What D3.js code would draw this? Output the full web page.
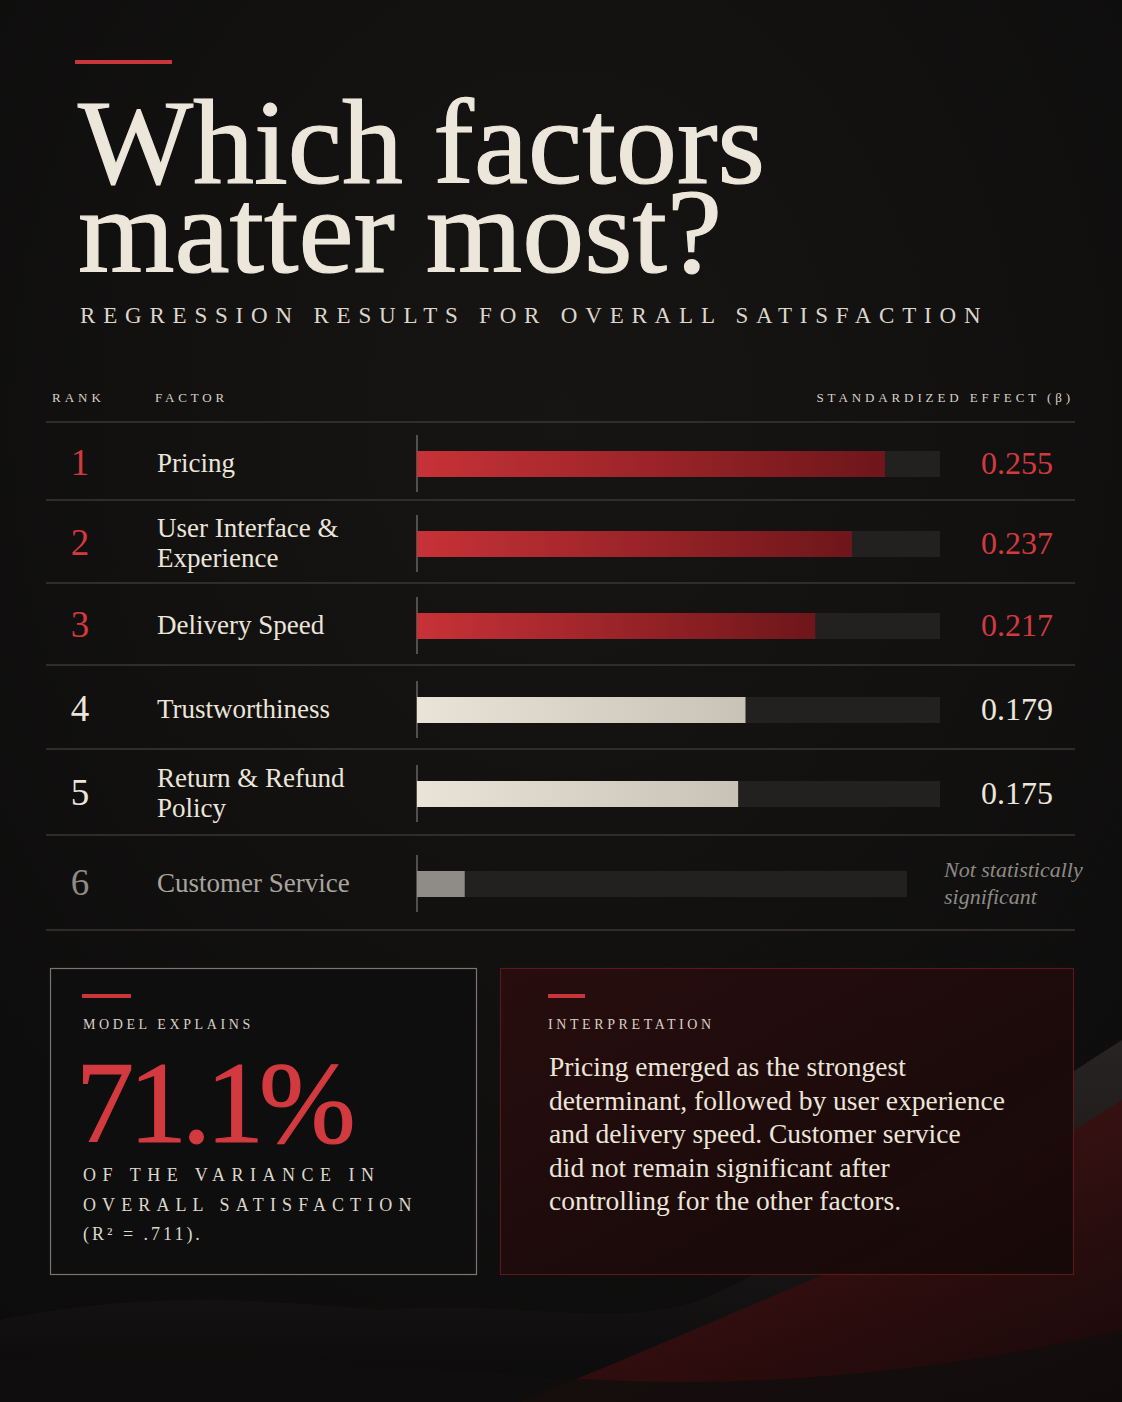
<!DOCTYPE html>
<html><head><meta charset="utf-8">
<script src="https://cdn.jsdelivr.net/npm/d3@7"></script>
<style>body{margin:0;background:#0f0e0e}svg{display:block}</style>
</head><body>
<script>
const ranks = [1,2,3,4,5,6];
const factors = [["Pricing"],["User Interface &","Experience"],["Delivery Speed"],["Trustworthiness"],["Return & Refund","Policy"],["Customer Service"]];
const betas = [0.255,0.237,0.217,0.179,0.175,0.026];
const betaLabels = ["0.255","0.237","0.217","0.179","0.175",null];
const significant = [true,true,true,true,true,false];

const W=1122,H=1402,serif="'Liberation Serif','DejaVu Serif',serif";
const svg=d3.select("body").append("svg").attr("width",W).attr("height",H);
const defs=svg.append("defs");
const bg=defs.append("radialGradient").attr("id","bg").attr("cx","0.5").attr("cy","0.3").attr("r","0.9");
bg.append("stop").attr("offset","0").attr("stop-color","#161514");
bg.append("stop").attr("offset","1").attr("stop-color","#0c0b0b");
svg.append("rect").attr("width",W).attr("height",H).attr("fill","url(#bg)");
const rg=defs.append("linearGradient").attr("id","redbar");
rg.append("stop").attr("offset","0").attr("stop-color","#c73237");
rg.append("stop").attr("offset","1").attr("stop-color","#6e161a");
const wg=defs.append("linearGradient").attr("id","whitebar");
wg.append("stop").attr("offset","0").attr("stop-color","#e9e3d8");
wg.append("stop").attr("offset","1").attr("stop-color","#c9c2b6");
const pg=defs.append("linearGradient").attr("id","panel").attr("x1","0").attr("y1","0").attr("x2","1").attr("y2","1");
pg.append("stop").attr("offset","0").attr("stop-color","#2a0d0e");
pg.append("stop").attr("offset","1").attr("stop-color","#160909");

const mg=defs.append("linearGradient").attr("id","mtn").attr("x1","0").attr("y1","0").attr("x2","0").attr("y2","1");
mg.append("stop").attr("offset","0").attr("stop-color","#2a2625");
mg.append("stop").attr("offset","1").attr("stop-color","#0b0a0a");
const mg2=defs.append("linearGradient").attr("id","mtnr").attr("x1","0").attr("y1","0").attr("x2","1").attr("y2","1");
mg2.append("stop").attr("offset","0").attr("stop-color","#5a1214");
mg2.append("stop").attr("offset","1").attr("stop-color","#1a0808");
svg.append("path").attr("d","M0,1320 C150,1290 260,1300 380,1310 C520,1300 620,1330 700,1300 C820,1250 950,1150 1122,1040 L1122,1402 L0,1402Z").attr("fill","url(#mtn)").attr("opacity",0.9);
svg.append("path").attr("d","M520,1402 C650,1350 760,1300 860,1260 C960,1210 1040,1150 1122,1100 L1122,1402Z").attr("fill","url(#mtnr)").attr("opacity",0.8);
svg.append("path").attr("d","M0,1360 C200,1340 420,1370 600,1380 C800,1390 1000,1360 1122,1330 L1122,1402 L0,1402Z").attr("fill","#100e0e").attr("opacity",0.8);

svg.append("rect").attr("x",75).attr("y",60).attr("width",97).attr("height",4).attr("fill","#c8363b");
svg.append("text").attr("x",78).attr("y",183).attr("font-family",serif).attr("font-size",121).attr("fill","#ede6da").attr("stroke","#ede6da").attr("stroke-width",1.2).attr("textLength",687).attr("lengthAdjust","spacingAndGlyphs").text("Which factors");
svg.append("text").attr("x",78).attr("y",272).attr("font-family",serif).attr("font-size",121).attr("fill","#ede6da").attr("stroke","#ede6da").attr("stroke-width",1.2).attr("textLength",644).attr("lengthAdjust","spacingAndGlyphs").text("matter most?");
svg.append("text").attr("x",80).attr("y",323).attr("font-family",serif).attr("font-size",23).attr("fill","#ddd6ca").attr("letter-spacing",7.8).text("REGRESSION  RESULTS FOR OVERALL SATISFACTION");

const hdr=(x,t,a,ls)=>svg.append("text").attr("x",x).attr("y",402).attr("font-family",serif).attr("font-size",13).attr("fill","#d8d1c5").attr("letter-spacing",ls).attr("text-anchor",a||"start").text(t);
hdr(52,"RANK","start",4);hdr(155,"FACTOR","start",3.8);hdr(1074,"STANDARDIZED EFFECT (β)","end",3.9);

const seps=[422,500,583,665,749,835,930];
seps.forEach(y=>svg.append("line").attr("x1",46).attr("x2",1075).attr("y1",y).attr("y2",y).attr("stroke","#3a3634").attr("stroke-width",1.5));
const centers=[463,543,625,709,793,883];
const x=d3.scaleLinear().domain([0,0.285]).range([417,940]);

ranks.forEach((r,i)=>{
  const cy=centers[i], red=i<3, sig=significant[i];
  const col=red?"#d23a3f":(sig?"#ece5d9":"#8e8a85");
  svg.append("text").attr("x",80).attr("y",cy+12).attr("text-anchor","middle").attr("font-family",serif).attr("font-size",37).attr("fill",col).text(r);
  const lines=factors[i];
  lines.forEach((l,j)=>svg.append("text").attr("x",157).attr("y",cy+9+(j-(lines.length-1)/2)*30).attr("font-family",serif).attr("font-size",27).attr("fill",sig?"#ece5d9":"#a9a49d").text(l));
  svg.append("line").attr("x1",417).attr("x2",417).attr("y1",cy-28).attr("y2",cy+29).attr("stroke","#6a6562").attr("stroke-width",1.5);
  const trackEnd=sig?x(0.285):907;
  svg.append("rect").attr("x",x(0)).attr("y",cy-12).attr("width",trackEnd-x(0)).attr("height",26).attr("fill","#222120");
  svg.append("rect").attr("x",x(0)).attr("y",cy-12).attr("width",x(betas[i])-x(0)).attr("height",26)
    .attr("fill",red?"url(#redbar)":(sig?"url(#whitebar)":"#8f8b87"));
  if(betaLabels[i]) svg.append("text").attr("x",981).attr("y",cy+11).attr("font-family",serif).attr("font-size",32).attr("fill",red?"#d23a3f":"#ece5d9").text(betaLabels[i]);
  else ["Not statistically","significant"].forEach((t,j)=>svg.append("text").attr("x",944).attr("y",cy-6+j*27).attr("font-family",serif).attr("font-style","italic").attr("font-size",22).attr("fill","#8e8a85").text(t));
});

svg.append("rect").attr("x",50.5).attr("y",968.5).attr("width",426).attr("height",306).attr("fill","#0f0e0e").attr("stroke","#7a7571").attr("stroke-width",1.2);
svg.append("rect").attr("x",82).attr("y",994).attr("width",49).attr("height",4).attr("fill","#c8363b");
svg.append("text").attr("x",83).attr("y",1029).attr("font-family",serif).attr("font-size",14).attr("fill","#d8d1c5").attr("letter-spacing",3.6).text("MODEL EXPLAINS");
svg.append("text").attr("x",76).attr("y",1142).attr("font-family",serif).attr("font-size",116).attr("fill","#d23a3f").attr("stroke","#d23a3f").attr("stroke-width",1.2).attr("letter-spacing",-5).text("71.1%");
[["OF THE VARIANCE IN",6.5],["OVERALL SATISFACTION",6.1],["(R² = .711).",3]].forEach(([t,ls],j)=>svg.append("text").attr("x",83).attr("y",1181+j*29.5).attr("font-family",serif).attr("font-size",18).attr("fill","#ddd6ca").attr("letter-spacing",ls).text(t));

svg.append("rect").attr("x",500.5).attr("y",968.5).attr("width",573).attr("height",306).attr("fill","url(#panel)").attr("opacity",0.92).attr("stroke","#5e1a1c").attr("stroke-width",1.2);
svg.append("rect").attr("x",548).attr("y",994).attr("width",37).attr("height",4).attr("fill","#c8363b");
svg.append("text").attr("x",548).attr("y",1029).attr("font-family",serif).attr("font-size",14).attr("fill","#d8d1c5").attr("letter-spacing",3.6).text("INTERPRETATION");
["Pricing emerged as the strongest","determinant, followed by user experience","and delivery speed. Customer service","did not remain significant after","controlling for the other factors."].forEach((t,j)=>svg.append("text").attr("x",549).attr("y",1076+j*33.5).attr("font-family",serif).attr("font-size",27.5).attr("fill","#ece5d9").text(t));
</script>
</body></html>
